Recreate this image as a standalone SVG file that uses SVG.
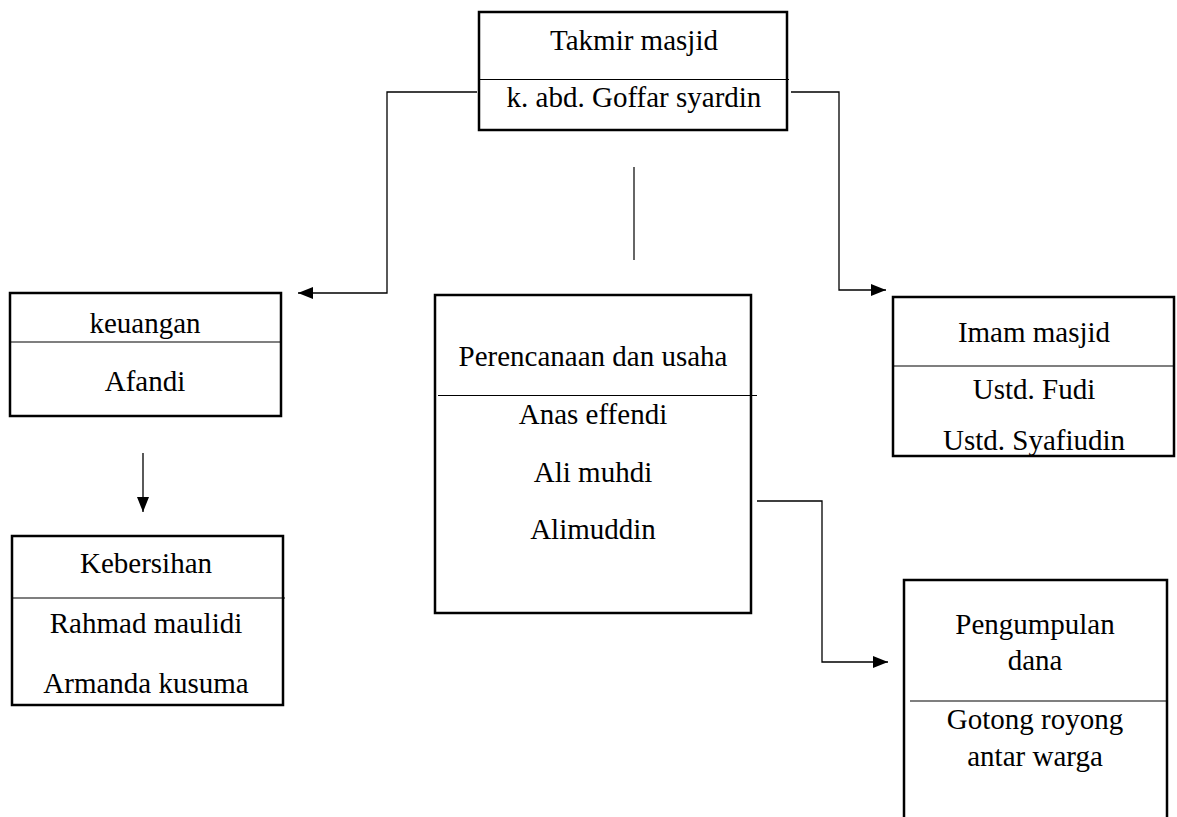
<svg xmlns="http://www.w3.org/2000/svg" width="1177" height="817" viewBox="0 0 1177 817">
<defs>
<marker id="ah" markerWidth="15" markerHeight="12" refX="15" refY="6" orient="auto" markerUnits="userSpaceOnUse">
<path d="M0,0 L15,6 L0,12 Z" fill="#000"/>
</marker>
<style>
.box{fill:#fff;stroke:#000;stroke-width:2.5}
.div{stroke:#000;stroke-width:1.2;fill:none}
.con{stroke:#000;stroke-width:1.3;fill:none}
text{font-family:"Liberation Serif","Times New Roman",serif;font-size:29px;fill:#000;text-anchor:middle}
</style>
</defs>
<rect width="1177" height="817" fill="#fff"/>
<g id="connectors">
<path class="con" d="M477,92 H387 V293 H298" marker-end="url(#ah)"/>
<path class="con" d="M791,92 H839 V290 H886" marker-end="url(#ah)"/>
<line x1="634" y1="167" x2="634" y2="260" stroke="#333" stroke-width="1.5"/>
<path class="con" d="M143,453 V512" marker-end="url(#ah)"/>
<path class="con" d="M757,501 H822 V662 H888" marker-end="url(#ah)"/>
</g>
<g id="takmir">
<rect class="box" x="479" y="12" width="308" height="118"/>
<line class="div" x1="479" y1="79.5" x2="789" y2="79.5"/>
<text x="634" y="50">Takmir masjid</text>
<text x="634" y="107">k. abd. Goffar syardin</text>
</g>
<g id="keuangan">
<rect class="box" x="10" y="293" width="271" height="123"/>
<line class="div" x1="10" y1="342" x2="281" y2="342"/>
<text x="145" y="333">keuangan</text>
<text x="145" y="391">Afandi</text>
</g>
<g id="kebersihan">
<rect class="box" x="12" y="536" width="271" height="169"/>
<line class="div" x1="12" y1="598" x2="285" y2="598"/>
<text x="146" y="573">Kebersihan</text>
<text x="146" y="633">Rahmad maulidi</text>
<text x="146" y="693">Armanda kusuma</text>
</g>
<g id="perencanaan">
<rect class="box" x="435" y="295" width="316" height="318"/>
<line class="div" x1="438" y1="395.5" x2="757" y2="395.5"/>
<text x="593" y="366">Perencanaan dan usaha</text>
<text x="593" y="424">Anas effendi</text>
<text x="593" y="482">Ali muhdi</text>
<text x="593" y="539">Alimuddin</text>
</g>
<g id="imam">
<rect class="box" x="893" y="297" width="281" height="159"/>
<line class="div" x1="893" y1="366" x2="1174" y2="366"/>
<text x="1034" y="342">Imam masjid</text>
<text x="1034" y="399">Ustd. Fudi</text>
<text x="1034" y="450">Ustd. Syafiudin</text>
</g>
<g id="pengumpulan">
<rect class="box" x="904" y="580" width="263" height="260"/>
<line class="div" x1="910" y1="701" x2="1167" y2="701"/>
<text x="1035" y="634">Pengumpulan</text>
<text x="1035" y="670">dana</text>
<text x="1035" y="729">Gotong royong</text>
<text x="1035" y="766">antar warga</text>
</g>
</svg>
